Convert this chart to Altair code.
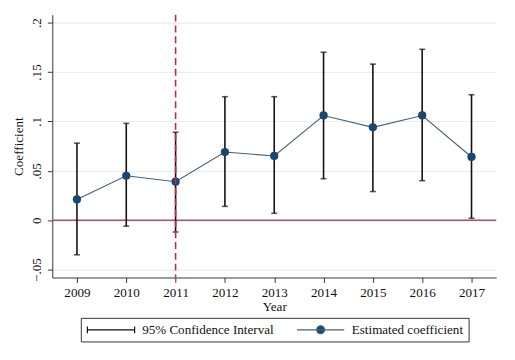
import altair as alt
import pandas as pd

years = [2009, 2010, 2011, 2012, 2013, 2014, 2015, 2016, 2017]
coef = [0.021, 0.045, 0.039, 0.069, 0.065, 0.106, 0.094, 0.106, 0.064]
lo = [-0.035, -0.006, -0.012, 0.014, 0.007, 0.042, 0.029, 0.040, 0.002]
hi = [0.078, 0.098, 0.089, 0.125, 0.125, 0.170, 0.158, 0.173, 0.127]
y_ticks = [-0.05, 0, 0.05, 0.1, 0.15, 0.2]
event_year = [2011]
series = ["95% Confidence Interval", "Estimated coefficient"]

df = pd.DataFrame({"year": years, "coef": coef, "lo": lo, "hi": hi})
ev = pd.DataFrame({"year": event_year})
zero = pd.DataFrame({"y": [0]})
leg = pd.DataFrame({"series": series})

FONT = "Liberation Serif"
NAVY = "#1a476f"
LINEC = "#46607a"

xs = alt.Scale(domain=[2008.5, 2017.5], nice=False, zero=False)
ys = alt.Scale(domain=[-0.058, 0.208], nice=False, zero=False)

x_axis = alt.Axis(values=years, format="d", title="Year", grid=False,
                  labelFont=FONT, labelFontSize=13.3, titleFont=FONT,
                  titleFontSize=13.3, titleFontWeight="normal", labelColor="#111",
                  titleColor="#111", tickSize=5, labelPadding=3, titlePadding=1,
                  domainColor="#333", tickColor="#333")
y_axis = alt.Axis(values=y_ticks, title="Coefficient", grid=True,
                  gridColor="#eaeef0", gridWidth=1.2,
                  labelExpr="datum.value == 0 ? '0' : replace(format(datum.value, '.2~f'), '0.', '.')",
                  labelAngle=-90, labelAlign="center", labelBaseline="bottom",
                  labelFont=FONT, labelFontSize=13.3, titleFont=FONT,
                  titleFontSize=13.3, titleFontWeight="normal", labelColor="#111",
                  titleColor="#111", tickSize=5, labelPadding=4, titlePadding=4,
                  domainColor="#333", tickColor="#333")

base = alt.Chart(df)

ci = base.mark_rule(color="#111", strokeWidth=1.6).encode(
    x=alt.X("year:Q", scale=xs, axis=x_axis),
    y=alt.Y("lo:Q", scale=ys, axis=y_axis),
    y2="hi:Q",
)
cap_lo = base.mark_tick(color="#111", orient="horizontal", size=6, thickness=1.6).encode(
    x="year:Q", y="lo:Q")
cap_hi = base.mark_tick(color="#111", orient="horizontal", size=6, thickness=1.6).encode(
    x="year:Q", y="hi:Q")

zline = alt.Chart(zero).mark_rule(color="#b54a6e", strokeWidth=1.5).encode(y="y:Q")
vline = alt.Chart(ev).mark_rule(color="#c02a48", strokeWidth=1.6, strokeDash=[7, 4]).encode(x="year:Q")

line = base.mark_line(color=LINEC, strokeWidth=1.1).encode(x="year:Q", y="coef:Q")
pts = base.mark_circle(color=NAVY, size=70, opacity=1).encode(x="year:Q", y="coef:Q")

ci_path = "M-1,0H8.6M-1,-0.7V0.7M8.6,-0.7V0.7"
co_path = "M-1,0H8.6M3.0,0A0.8,0.8 0 1,0 4.6,0A0.8,0.8 0 1,0 3.0,0"

legend = alt.Legend(orient="none", legendX=29, legendY=308, direction="horizontal",
                    title=None, labelFont=FONT, labelFontSize=13.3, labelColor="#111",
                    labelOffset=44, columnPadding=21, padding=5,
                    strokeColor="#333", fillColor="white", symbolSize=100,
                    symbolStrokeWidth=1.2, symbolOpacity=1)

leg_layer = alt.Chart(leg).mark_point(filled=True, opacity=0, size=100).encode(
    x=alt.value(0), y=alt.value(0),
    shape=alt.Shape("series:N", scale=alt.Scale(domain=series, range=[ci_path, co_path]), legend=legend),
    fill=alt.Fill("series:N", scale=alt.Scale(domain=series, range=["#111", NAVY]), legend=legend),
    stroke=alt.Stroke("series:N", scale=alt.Scale(domain=series, range=["#111", LINEC]), legend=legend),
)

chart = alt.layer(zline, ci, cap_lo, cap_hi, line, pts, vline, leg_layer).properties(
    width=451, height=267,
    autosize=alt.AutoSizeParams(type="none"),
    padding={"left": 45, "top": 4, "right": 11, "bottom": 81},
    background="white",
).configure_view(stroke=None)

chart.save("out.html", embed_options={"renderer": "svg", "actions": False})
